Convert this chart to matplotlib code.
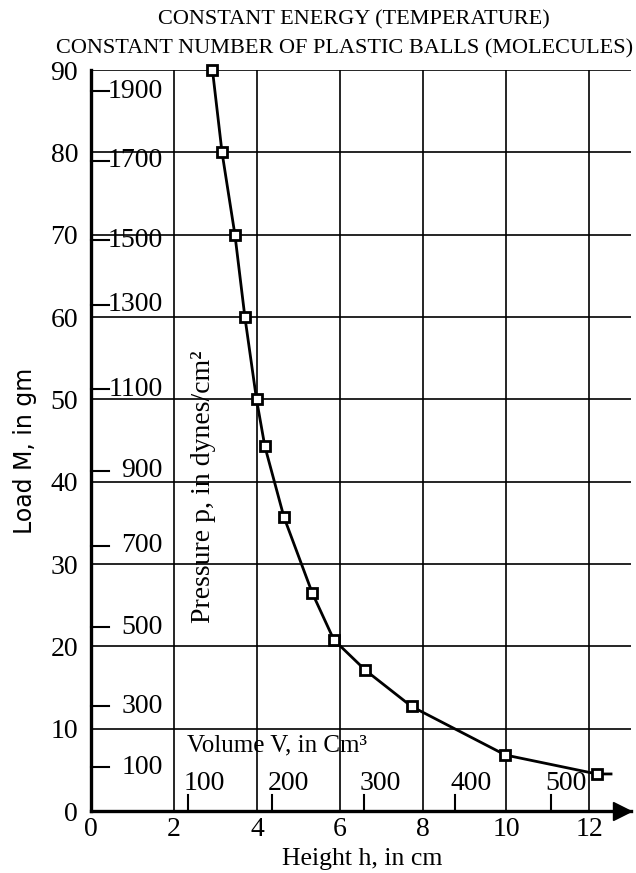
import matplotlib
matplotlib.use('Agg')
import matplotlib.pyplot as plt
import matplotlib.transforms as mtrans

# readings: height h (cm) vs load M (gm)
height_cm = [2.93, 3.16, 3.47, 3.71, 3.99, 4.19, 4.65, 5.33, 5.85, 6.61, 7.72, 9.98, 12.18]
load_gm = [90, 80, 70, 60, 50, 44.3, 35.7, 26.5, 20.8, 17.1, 12.7, 6.8, 4.5]
# the drawn curve runs a little past the last point
curve_end_h = 12.52
curve_end_M = 4.5

# inner pressure scale (dynes/cm^2) and where its ticks sit on the load scale
pressure_labels = [1900, 1700, 1500, 1300, 1100, 900, 700, 500, 300, 100]
pressure_at_load = [87.4, 79.0, 69.3, 61.5, 51.2, 41.3, 32.2, 22.3, 12.7, 5.3]

# inner volume scale (cm^3) and where its ticks sit on the height scale
volume_labels = [100, 200, 300, 400, 500]
volume_at_height = [2.35, 4.37, 6.58, 8.77, 11.07]

x_ticks = [0, 2, 4, 6, 8, 10, 12]
y_ticks = [0, 10, 20, 30, 40, 50, 60, 70, 80, 90]

plt.rcParams['font.family'] = ['Liberation Serif', 'DejaVu Serif']

fig = plt.figure(figsize=(6.36, 8.73), dpi=100)
ax = fig.add_axes([0.1426, 0.0710, 0.8495, 0.8488])
ax.set_xlim(0, 13.0)
ax.set_ylim(0, 90)
ax.set_xticks(x_ticks)
ax.set_yticks(y_ticks)
ax.tick_params(length=0, labelsize=20)
ax.tick_params(axis='y', pad=9)
ax.tick_params(axis='x', pad=4)
ax.grid(True, color='black', lw=1.2)
for s in ['top', 'right']:
    ax.spines[s].set_visible(False)
for s in ['left', 'bottom']:
    ax.spines[s].set_linewidth(2.4)

# curve + hollow square markers
ax.plot(height_cm + [curve_end_h], load_gm + [curve_end_M], color='k', lw=2.0, zorder=3, clip_on=False)
ax.plot(height_cm, load_gm, 's', ms=7.8, mfc='white', mec='k', mew=2.0, zorder=4, clip_on=False)

# arrow head at the end of the x axis
shift = mtrans.ScaledTranslation(-8.5 / 100, 0, fig.dpi_scale_trans)
ax.plot(1, 0, marker='>', ms=12.5, color='k', transform=ax.get_yaxis_transform() + shift, clip_on=False, zorder=5)

# pressure scale inside the left edge
ytr = ax.get_yaxis_transform()
for p, pos in zip(pressure_labels, pressure_at_load):
    ax.plot([0, 0.034], [pos, pos], color='k', lw=1.5, transform=ytr, clip_on=False)
    ax.text(0.1338, pos, str(p), ha='right', va='center', fontsize=20, transform=ytr)

# volume scale above the bottom axis
xtr = ax.get_xaxis_transform()
lshift = mtrans.ScaledTranslation(-5 / 100, 0, fig.dpi_scale_trans)
for v, pos in zip(volume_labels, volume_at_height):
    ax.plot([pos, pos], [0, 0.0216], color='k', lw=1.5, transform=xtr, clip_on=False)
    ax.text(pos, 0.0283, str(v), ha='left', va='baseline', fontsize=20, transform=xtr + lshift)

ax.text(0.1777, 0.080, 'Volume V, in Cm³', transform=ax.transAxes, fontsize=18, ha='left', va='baseline')

fig.text(0.330, 0.4422, 'Pressure p, in dynes/cm²', rotation=90, rotation_mode='anchor',
         ha='center', va='baseline', fontsize=20)
fig.text(0.0498, 0.4834, 'Load M, in gm', family='DejaVu Sans', fontsize=17, rotation=90,
         rotation_mode='anchor', ha='center', va='baseline')
fig.text(0.569, 0.0092, 'Height h, in cm', ha='center', va='baseline', fontsize=18.5)

fig.text(0.5566, 0.9714, 'CONSTANT ENERGY (TEMPERATURE)', ha='center', va='baseline', fontsize=16)
fig.text(0.5425, 0.9389, 'CONSTANT NUMBER OF PLASTIC BALLS (MOLECULES)', ha='center', va='baseline', fontsize=16)

fig.savefig('out.png', dpi=100)
